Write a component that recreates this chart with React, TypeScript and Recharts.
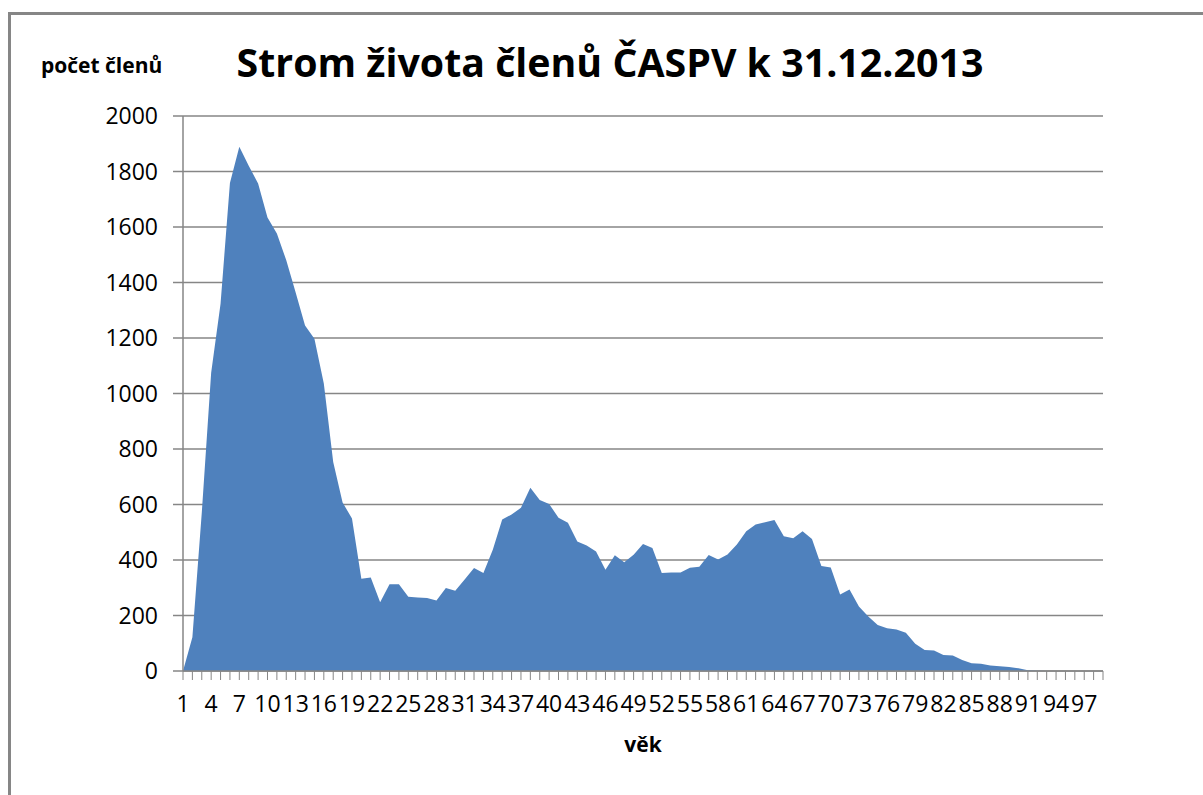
import React from 'react'
import { AreaChart, Area, XAxis, YAxis, CartesianGrid } from 'recharts'

// vek 1..99
const ages: number[] = Array.from({ length: 99 }, (_, i) => i + 1)

// pocet clenu podle veku
const counts: number[] = [
	0, 122, 570, 1075, 1323, 1759, 1889, 1821, 1757, 1634,
	1577, 1480, 1364, 1245, 1197, 1036, 753, 607, 550, 332,
	337, 248, 313, 313, 268, 265, 263, 254, 299, 289,
	330, 371, 353, 437, 546, 564, 588, 660, 616, 602,
	552, 534, 467, 452, 431, 365, 417, 392, 419, 458,
	443, 353, 355, 355, 372, 376, 418, 402, 420, 456,
	504, 528, 536, 544, 486, 478, 504, 476, 378, 373,
	276, 294, 232, 196, 166, 154, 150, 138, 98, 76,
	74, 58, 56, 40, 28, 26, 20, 17, 14, 10,
	3, 1, 0, 0, 0, 0, 0, 0, 0,
]

const yTicks: number[] = [0, 200, 400, 600, 800, 1000, 1200, 1400, 1600, 1800, 2000]

const title = 'Strom života členů ČASPV k 31.12.2013'
const yTitle = 'počet členů'
const xTitle = 'věk'

const data = ages.map((vek, i) => ({ vek, pocet: counts[i] }))

const FONT = '"Open Sans", sans-serif'
const GRAY = '#868686'

// popisek jen u kazdeho tretiho veku (1, 4, 7, ...)
const XTick = (props: any) => {
	const { x, y, payload } = props
	if ((Number(payload.value) - 1) % 3 !== 0) return <g />
	return (
		<text x={x} y={y} dy="0.71em" textAnchor="middle" fontSize={23} fontFamily={FONT} fill="#000">
			{payload.value}
		</text>
	)
}

export default function App() {
	return (
		<div style={{ position: 'absolute', left: 0, top: 0, width: 1203, height: 795, overflow: 'hidden', background: '#fff' }}>
			{/* ramecek grafu */}
			<div
				style={{
					position: 'absolute',
					left: 8,
					top: 12,
					width: 1195,
					height: 783,
					borderTop: `3px solid ${GRAY}`,
					borderLeft: `3px solid ${GRAY}`,
					boxSizing: 'border-box',
				}}
			/>
			<div style={{ position: 'absolute', left: 0, top: 0 }}>
				<AreaChart width={1203} height={795} data={data} margin={{ top: 116, right: 100, left: 0, bottom: 64 }}>
					<CartesianGrid vertical={false} stroke={GRAY} strokeWidth={1.5} />
					<XAxis
						dataKey="vek"
						interval={0}
						tick={XTick}
						tickSize={9}
						tickMargin={16}
						height={60}
						axisLine={{ stroke: GRAY, strokeWidth: 1.5 }}
						tickLine={{ stroke: GRAY, strokeWidth: 1 }}
					/>
					<YAxis
						width={183}
						domain={[0, 2000]}
						ticks={yTicks}
						interval={0}
						tickSize={10}
						tickMargin={15}
						tick={{ fontSize: 23, fontFamily: FONT, fill: '#000' }}
						axisLine={{ stroke: GRAY, strokeWidth: 1.5 }}
						tickLine={{ stroke: GRAY, strokeWidth: 1.5 }}
					/>
					<Area
						type="linear"
						dataKey="pocet"
						stroke="none"
						fill="#4f81bd"
						fillOpacity={1}
						isAnimationActive={false}
					/>
				</AreaChart>
			</div>
			<svg width={1203} height={795} style={{ position: 'absolute', left: 0, top: 0, pointerEvents: 'none' }}>
				<text x={610} y={77} textAnchor="middle" fontSize={39.3} fontWeight="bold" fontFamily={FONT} fill="#000">
					{title}
				</text>
				<text x={41} y={73} fontSize={21} fontWeight="bold" fontFamily={FONT} fill="#000">
					{yTitle}
				</text>
				<text x={643} y={752} textAnchor="middle" fontSize={21} fontWeight="bold" fontFamily={FONT} fill="#000">
					{xTitle}
				</text>
			</svg>
		</div>
	)
}
